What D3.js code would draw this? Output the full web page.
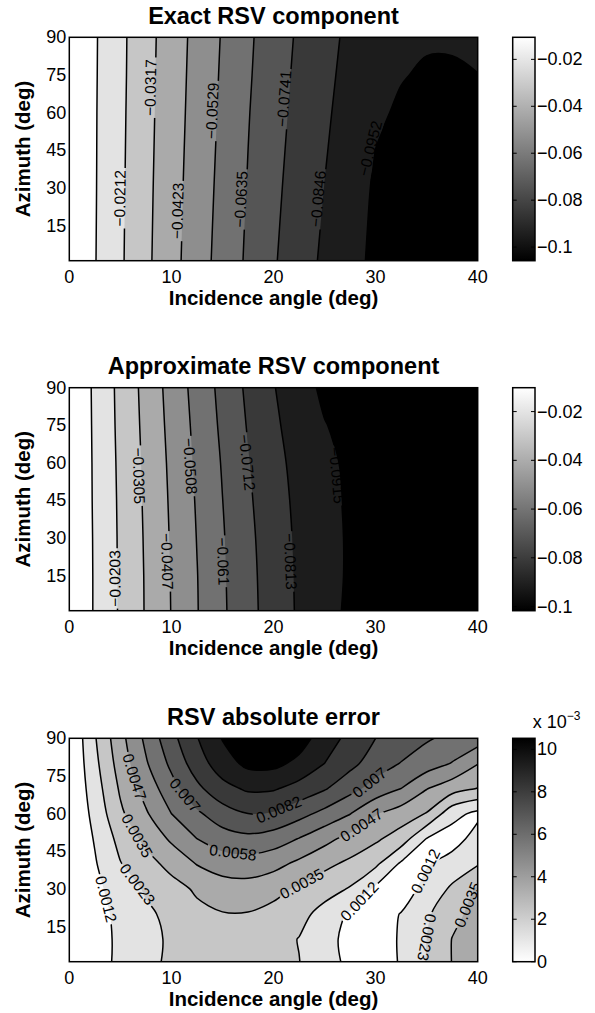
<!DOCTYPE html>
<html>
<head>
<meta charset="utf-8">
<script src="https://cdn.jsdelivr.net/npm/d3@7"></script>
<style>
  body { margin: 0; background: #fff; overflow: hidden; }
  text { font-family: "Liberation Sans", Arial, Helvetica, sans-serif; fill: #000; }
</style>
</head>
<body>
<div id="chart"></div>
<script>
// grid nodes (incidence angle columns, azimuth rows from 90 deg down to 0 deg)
var thetaNodes = [0, 2.5, 5, 7.5, 10, 12.5, 15, 17.5, 20, 22.5, 25, 27.5, 30, 32.5, 35, 37.5, 40];
var phiNodesRSV = [90, 75, 60, 45, 30, 15, 0];
var phiNodesErr = [90, 80, 70, 60, 50, 40, 30, 20, 10, 0];

// all field values in units of 1e-3
var exactRSV = [
  [0, -9.63, -18.83, -28.14, -36.92, -45.39, -53.64, -61.79, -68.98, -75.54, -81.36, -86.76, -89.93, -92.05, -93.95, -94.16, -93.10],
  [0, -9.73, -18.94, -28.35, -37.24, -45.81, -54.17, -62.32, -69.67, -76.28, -82.21, -87.60, -90.78, -94.59, -96.49, -96.28, -95.33],
  [0, -9.84, -19.15, -28.57, -37.56, -46.23, -54.70, -62.95, -70.36, -77.02, -83.05, -88.55, -93.21, -96.81, -98.39, -98.39, -97.87],
  [0, -9.89, -19.31, -28.83, -37.88, -46.71, -55.23, -63.48, -71.04, -77.82, -83.90, -89.40, -95.43, -98.61, -99.98, -100.51, -100.51],
  [0, -9.95, -19.47, -29.10, -38.19, -47.19, -55.76, -64.01, -71.73, -78.61, -84.75, -90.25, -96.49, -99.77, -101.57, -102.10, -102.63],
  [0, -10.05, -19.63, -29.31, -38.51, -47.61, -56.29, -64.64, -72.42, -79.35, -85.59, -91.20, -97.02, -100.51, -102.63, -103.68, -104.53],
  [0, -10.16, -19.78, -29.52, -38.83, -48.03, -56.81, -65.17, -73.11, -80.09, -86.44, -92.05, -97.34, -101.04, -103.68, -104.74, -105.80]
];

var approxRSV = [
  [0, -11.89, -22.87, -33.65, -44.32, -54.38, -63.84, -73.09, -80.81, -87.22, -93.52, -96.06, -98.09, -99.62, -100.63, -101.14, -101.65],
  [0, -11.69, -22.57, -33.04, -43.51, -53.37, -62.82, -71.87, -79.59, -85.59, -91.08, -94.53, -97.08, -98.80, -100.13, -100.84, -101.35],
  [0, -11.49, -22.16, -32.43, -42.69, -52.45, -61.70, -70.65, -78.37, -84.27, -89.15, -93.52, -96.06, -98.09, -99.62, -100.63, -101.14],
  [0, -11.38, -21.85, -32.02, -42.08, -51.64, -60.89, -69.73, -77.36, -83.56, -88.44, -93.01, -95.55, -97.58, -99.11, -100.43, -101.04],
  [0, -11.18, -21.65, -31.61, -41.57, -51.03, -60.18, -68.92, -76.54, -83.05, -88.03, -92.70, -95.55, -97.58, -99.11, -100.43, -101.04],
  [0, -11.08, -21.55, -31.31, -41.17, -50.52, -59.77, -68.41, -76.03, -82.74, -88.03, -92.70, -95.75, -97.79, -99.31, -100.53, -101.14],
  [0, -11.08, -21.45, -31.21, -40.96, -50.32, -59.47, -68.11, -75.73, -82.54, -88.13, -93.31, -96.06, -98.09, -99.62, -100.63, -101.14]
];

var absError = [
  [0, 2.24, 4.30, 6.10, 7.82, 9.29, 10.58, 11.57, 11.69, 11.05, 9.94, 9.01, 8.18, 7.72, 7.13, 6.72, 6.43],
  [0, 2.03, 4.02, 5.72, 7.27, 8.79, 9.98, 10.81, 10.83, 10.23, 9.35, 8.52, 7.59, 6.96, 6.43, 5.79, 4.73],
  [0, 1.78, 3.67, 5.13, 6.59, 7.91, 8.97, 9.53, 9.47, 8.93, 8.29, 7.39, 6.57, 5.85, 4.73, 4.02, 3.47],
  [0, 1.52, 3.30, 4.54, 5.85, 6.82, 7.66, 8.17, 8.07, 7.42, 6.67, 5.89, 4.77, 4.13, 3.45, 1.58, 0.88],
  [0, 1.26, 2.71, 3.81, 4.87, 5.85, 6.49, 6.72, 6.44, 5.81, 5.05, 4.30, 3.71, 2.97, 1.13, 0.58, 1.70],
  [0, 1.06, 2.29, 3.07, 3.88, 4.73, 5.20, 5.32, 5.05, 4.42, 3.78, 3.27, 2.58, 0.99, 1.05, 1.75, 2.24],
  [0, 0.88, 1.72, 2.48, 3.07, 3.68, 4.15, 4.21, 3.86, 3.34, 2.86, 2.24, 0.94, 0.35, 1.68, 2.50, 3.68],
  [0, 0.75, 1.46, 2.13, 2.63, 3.21, 3.45, 3.45, 3.16, 2.76, 1.88, 1.03, 0.47, 1.23, 2.16, 3.17, 3.92],
  [0, 0.71, 1.39, 2.00, 2.51, 2.81, 3.04, 2.98, 2.81, 2.30, 1.57, 0.82, 0.35, 1.34, 2.34, 3.54, 4.03],
  [0, 0.72, 1.41, 2.06, 2.54, 2.75, 2.92, 2.86, 2.69, 2.37, 1.67, 0.91, 0.41, 1.29, 2.40, 3.54, 3.97]
];

// contour levels and colour limits (1e-3 units)
var exactLevels = [-95.2, -84.6, -74.1, -63.5, -52.9, -42.3, -31.7, -21.2, -10.6];
var approxLevels = [-91.5, -81.3, -71.2, -61.0, -50.8, -40.7, -30.5, -20.3, -10.2];
var errorLevels = [1.17, 2.34, 3.51, 4.68, 5.85, 7.01, 8.18, 9.35, 10.52];
var exactRange = [-105.8, -10.6];
var approxRange = [-101.7, -10.2];
var errorRange = [0, 10.52];

// in-line contour labels: level, text, anchor (theta, phi), reading direction
var exactLabels = [
  {v: -21.2, text: "\u22120.0212", theta: 4.9, phi: 25.9, dir: -90},
  {v: -31.7, text: "\u22120.0317", theta: 7.9, phi: 70, dir: -90},
  {v: -42.3, text: "\u22120.0423", theta: 10.5, phi: 20.9, dir: -90},
  {v: -52.9, text: "\u22120.0529", theta: 13.9, phi: 60.8, dir: -90},
  {v: -63.5, text: "\u22120.0635", theta: 16.7, phi: 25.6, dir: -90},
  {v: -74.1, text: "\u22120.0741", theta: 20.9, phi: 65.7, dir: -90},
  {v: -84.6, text: "\u22120.0846", theta: 24.1, phi: 25.9, dir: -90},
  {v: -95.2, text: "\u22120.0952", theta: 29.9, phi: 45.8, dir: -90}
];
var approxLabels = [
  {v: -20.3, text: "\u22120.0203", theta: 5.6, phi: 13.9, dir: -90},
  {v: -30.5, text: "\u22120.0305", theta: 6.4, phi: 54.8, dir: 90},
  {v: -40.7, text: "\u22120.0407", theta: 9.1, phi: 20.6, dir: 90},
  {v: -50.8, text: "\u22120.0508", theta: 11.3, phi: 58.5, dir: 90},
  {v: -61.0, text: "\u22120.061", theta: 14.8, phi: 20.6, dir: 90},
  {v: -71.2, text: "\u22120.0712", theta: 16.9, phi: 59.8, dir: 90},
  {v: -81.3, text: "\u22120.0813", theta: 21.6, phi: 20.6, dir: 90},
  {v: -91.5, text: "\u22120.0915", theta: 25.2, phi: 54.5, dir: 90}
];
var errorLabels = [
  {v: 1.17, text: "0.0012", theta: 3.66, phi: 26, dir: 70},
  {v: 2.34, text: "0.0023", theta: 6.6, phi: 31.6, dir: 55},
  {v: 3.51, text: "0.0035", theta: 6.6, phi: 51.1, dir: 55},
  {v: 4.68, text: "0.0047", theta: 6.43, phi: 74.7, dir: 65},
  {v: 7.01, text: "0.007", theta: 11.23, phi: 67, dir: 40},
  {v: 5.85, text: "0.0058", theta: 16.06, phi: 45.5, dir: 5},
  {v: 8.18, text: "0.0082", theta: 20.6, phi: 60.8, dir: -5},
  {v: 7.01, text: "0.007", theta: 29.45, phi: 72.1, dir: -35},
  {v: 4.68, text: "0.0047", theta: 28.5, phi: 56.1, dir: -30},
  {v: 3.51, text: "0.0035", theta: 22.66, phi: 32.9, dir: -15},
  {v: 1.17, text: "0.0012", theta: 27.75, phi: 27.6, dir: -45},
  {v: 1.17, text: "0.0012", theta: 34.67, phi: 37.5, dir: -45},
  {v: 3.51, text: "0.0035", theta: 37.45, phi: 26.3, dir: -55},
  {v: 2.34, text: "0.0023", theta: 35.07, phi: 10.7, dir: 85}
];

var xTicks = [0, 10, 20, 30, 40];
var yTicks = [15, 30, 45, 60, 75, 90];
var rsvTicks = [-100, -80, -60, -40, -20];
var errorTicks = [0, 2, 4, 6, 8, 10];

var width = 595, height = 1013;
var plotLeft = 69.3, plotRight = 477.7, cbLeft = 512.7, cbRight = 535;

function rsvFormat(v) { return String(v / 1000).replace("-", "\u2212"); }
function errFormat(v) { return String(Math.round(v)); }

var panels = [
  {title: "Exact RSV component", top: 37.3, bottom: 260.7, grid: exactRSV, phiNodes: phiNodesRSV,
   levels: exactLevels, range: exactRange, labels: exactLabels, ramp: ["#000", "#fff"], cbTicks: rsvTicks, cbFormat: rsvFormat, labelDx: -5},
  {title: "Approximate RSV component", top: 387.7, bottom: 610.7, grid: approxRSV, phiNodes: phiNodesRSV,
   levels: approxLevels, range: approxRange, labels: approxLabels, ramp: ["#000", "#fff"], cbTicks: rsvTicks, cbFormat: rsvFormat, labelDx: -2.5},
  {title: "RSV absolute error", top: 738.3, bottom: 961.7, grid: absError, phiNodes: phiNodesErr,
   levels: errorLevels, range: errorRange, labels: errorLabels, ramp: ["#fff", "#000"], cbTicks: errorTicks, cbFormat: errFormat, labelDx: 0, exponent: true}
];

var svg = d3.select("#chart").append("svg")
    .attr("width", width)
    .attr("height", height);
var defs = svg.append("defs");

var smoothOpen = d3.line().curve(d3.curveCatmullRom.alpha(0.5));
var smoothClosed = d3.line().curve(d3.curveCatmullRomClosed.alpha(0.5));

panels.forEach(drawPanel);

function drawPanel(p, i) {
  var x = d3.scaleLinear().domain([0, 40]).range([plotLeft, plotRight]);
  var y = d3.scaleLinear().domain([1, 90]).range([p.bottom, p.top]);
  var n = thetaNodes.length, m = p.phiNodes.length;
  // contour coordinates -> data coordinates (sample k sits at k + 0.5)
  var colTheta = d3.scaleLinear().domain(d3.range(n)).range(thetaNodes).clamp(true);
  var rowPhi = d3.scaleLinear().domain(d3.range(m)).range(p.phiNodes).clamp(true);
  var tExt = d3.extent(thetaNodes), pExt = d3.extent(p.phiNodes);
  var color = d3.scaleLinear().domain(p.range).range(p.ramp).clamp(true);

  var contours = d3.contours()
      .size([n, m])
      .thresholds(p.levels)(p.grid.flat());

  function toData(c) { return [colTheta(c[0] - 0.5), rowPhi(c[1] - 0.5)]; }
  function toPx(d) { return [x(d[0]), y(d[1])]; }
  function onEdge(a, b) {
    return (a[0] === b[0] && (a[0] === tExt[0] || a[0] === tExt[1])) ||
           (a[1] === b[1] && (a[1] === pExt[0] || a[1] === pExt[1]));
  }

  // split a ring into straight border pieces and smooth iso-line runs
  function splitRing(ring) {
    var pts = ring.map(toData);
    var last = pts[pts.length - 1];
    if (pts.length > 1 && last[0] === pts[0][0] && last[1] === pts[0][1]) pts.pop();
    var N = pts.length;
    var px = pts.map(toPx);
    var edge = pts.map(function(a, k) { return onEdge(a, pts[(k + 1) % N]); });
    var start = edge.indexOf(true);
    if (start < 0) return {closed: true, pts: px};
    var pieces = [], run = null;
    for (var j = 0; j < N; j++) {
      var k = (start + j) % N, k1 = (k + 1) % N;
      if (edge[k]) {
        if (run) { pieces.push({run: true, pts: run}); run = null; }
        pieces.push({run: false, pts: [px[k], px[k1]]});
      } else {
        if (!run) run = [px[k]];
        run.push(px[k1]);
      }
    }
    if (run) pieces.push({run: true, pts: run});
    return {closed: false, start: px[start], pieces: pieces};
  }

  var shapes = contours.map(function(d) {
    var rings = [];
    d.coordinates.forEach(function(poly) { poly.forEach(function(ring) { rings.push(splitRing(ring)); }); });
    return {value: d.value, rings: rings};
  });

  defs.append("clipPath").attr("id", "clip" + i)
    .append("rect")
      .attr("x", plotLeft).attr("y", p.top)
      .attr("width", plotRight - plotLeft).attr("height", p.bottom - p.top);

  var plot = svg.append("g").attr("clip-path", "url(#clip" + i + ")");

  // lowest band
  plot.append("rect")
      .attr("x", plotLeft).attr("y", p.top)
      .attr("width", plotRight - plotLeft).attr("height", p.bottom - p.top)
      .attr("fill", color(p.range[0]));

  // filled bands
  plot.selectAll(".band")
      .data(shapes)
    .enter().append("path")
      .attr("class", "band")
      .attr("fill-rule", "evenodd")
      .attr("fill", function(d) { return color(d.value); })
      .attr("d", function(d) {
        return d.rings.map(function(r) {
          if (r.closed) return smoothClosed(r.pts);
          var s = "M" + r.start[0] + "," + r.start[1];
          r.pieces.forEach(function(pc) {
            if (pc.run) s += smoothOpen(pc.pts).replace(/^M/, "L");
            else s += "L" + pc.pts[1][0] + "," + pc.pts[1][1];
          });
          return s + "Z";
        }).join("");
      });

  // iso-lines
  var mask = defs.append("mask").attr("id", "mask" + i)
      .attr("maskUnits", "userSpaceOnUse")
      .attr("x", 0).attr("y", 0).attr("width", width).attr("height", height);
  mask.append("rect").attr("x", 0).attr("y", 0).attr("width", width).attr("height", height).attr("fill", "#fff");

  plot.append("g")
      .attr("mask", "url(#mask" + i + ")")
    .selectAll(".iso")
      .data(shapes)
    .enter().append("path")
      .attr("class", "iso")
      .attr("fill", "none")
      .attr("stroke", "#000")
      .attr("stroke-width", 1.5)
      .attr("stroke-linejoin", "round")
      .attr("d", function(d) {
        return d.rings.map(function(r) {
          if (r.closed) return smoothClosed(r.pts);
          return r.pieces.filter(function(pc) { return pc.run; })
              .map(function(pc) { return smoothOpen(pc.pts); }).join("");
        }).join("");
      });

  // contour labels, snapped onto their line and turned along it
  var labelG = plot.append("g");
  p.labels.forEach(function(lb) {
    var shape = shapes.reduce(function(best, d) {
      return Math.abs(d.value - lb.v) < Math.abs(best.value - lb.v) ? d : best;
    });
    var segs = [];
    shape.rings.forEach(function(r) {
      var runs = r.closed ? [r.pts.concat([r.pts[0]])] :
          r.pieces.filter(function(pc) { return pc.run; }).map(function(pc) { return pc.pts; });
      runs.forEach(function(pts) {
        for (var k = 1; k < pts.length; k++) segs.push([pts[k - 1], pts[k]]);
      });
    });
    var ax = x(lb.theta), ay = y(lb.phi);
    var bestD = Infinity, bx = ax, by = ay, ang = lb.dir;
    segs.forEach(function(sg) {
      var a = sg[0], b = sg[1], dx = b[0] - a[0], dy = b[1] - a[1], l2 = dx * dx + dy * dy;
      if (!l2) return;
      var t = Math.max(0, Math.min(1, ((ax - a[0]) * dx + (ay - a[1]) * dy) / l2));
      var qx = a[0] + t * dx, qy = a[1] + t * dy;
      var dd = (qx - ax) * (qx - ax) + (qy - ay) * (qy - ay);
      if (dd < bestD) { bestD = dd; bx = qx; by = qy; ang = Math.atan2(dy, dx) * 180 / Math.PI; }
    });
    var diff = ((ang - lb.dir) % 360 + 540) % 360 - 180;
    if (Math.abs(diff) > 90) ang += 180;
    bx += p.labelDx;
    var tr = "translate(" + bx.toFixed(2) + "," + by.toFixed(2) + ") rotate(" + ang.toFixed(1) + ")";

    var txt = labelG.append("text")
        .attr("transform", tr)
        .attr("text-anchor", "middle")
        .attr("dominant-baseline", "central")
        .style("font-size", "15.5px")
        .text(lb.text);
    var len = txt.node().getComputedTextLength();
    mask.append("rect")
        .attr("x", -len / 2 - 2).attr("y", -7.5)
        .attr("width", len + 4).attr("height", 15)
        .attr("transform", tr)
        .attr("fill", "#000");
  });

  // axes box
  svg.append("rect")
      .attr("x", plotLeft).attr("y", p.top)
      .attr("width", plotRight - plotLeft).attr("height", p.bottom - p.top)
      .attr("fill", "none").attr("stroke", "#000").attr("stroke-width", 1.5);

  // tick labels
  svg.append("g").selectAll("text")
      .data(xTicks)
    .enter().append("text")
      .attr("x", function(d) { return x(d); })
      .attr("y", p.bottom + 22)
      .attr("text-anchor", "middle")
      .style("font-size", "18px")
      .text(function(d) { return d; });

  svg.append("g").selectAll("text")
      .data(yTicks)
    .enter().append("text")
      .attr("x", plotLeft - 3)
      .attr("y", function(d) { return y(d); })
      .attr("text-anchor", "end")
      .attr("dominant-baseline", "central")
      .style("font-size", "18px")
      .text(function(d) { return d; });

  // axis labels and title
  svg.append("text")
      .attr("x", (plotLeft + plotRight) / 2)
      .attr("y", p.bottom + 44)
      .attr("text-anchor", "middle")
      .style("font-size", "20.5px")
      .style("font-weight", "bold")
      .text("Incidence angle (deg)");

  svg.append("text")
      .attr("transform", "translate(30," + ((p.top + p.bottom) / 2) + ") rotate(-90)")
      .attr("text-anchor", "middle")
      .style("font-size", "20.5px")
      .style("font-weight", "bold")
      .text("Azimuth (deg)");

  svg.append("text")
      .attr("x", (plotLeft + plotRight) / 2)
      .attr("y", p.top - 13.5)
      .attr("text-anchor", "middle")
      .style("font-size", "23.5px")
      .style("font-weight", "bold")
      .text(p.title);

  // colorbar
  var cb = d3.scaleLinear().domain(p.range).range([p.bottom, p.top]);
  var grad = defs.append("linearGradient").attr("id", "grad" + i)
      .attr("x1", 0).attr("y1", 0).attr("x2", 0).attr("y2", 1);
  grad.append("stop").attr("offset", 0).attr("stop-color", color(p.range[1]));
  grad.append("stop").attr("offset", 1).attr("stop-color", color(p.range[0]));

  svg.append("rect")
      .attr("x", cbLeft).attr("y", p.top)
      .attr("width", cbRight - cbLeft).attr("height", p.bottom - p.top)
      .attr("fill", "url(#grad" + i + ")")
      .attr("stroke", "#000").attr("stroke-width", 1.5);

  var cbT = svg.append("g").selectAll("g")
      .data(p.cbTicks)
    .enter().append("g");
  cbT.append("path")
      .attr("stroke", "#000").attr("stroke-width", 1)
      .attr("d", function(d) {
        var yy = cb(d).toFixed(2);
        return "M" + cbLeft + "," + yy + "h4M" + (cbRight - 4) + "," + yy + "h4";
      });
  cbT.append("text")
      .attr("x", cbRight + 2)
      .attr("y", function(d) { return cb(d); })
      .attr("dominant-baseline", "central")
      .style("font-size", "18px")
      .text(p.cbFormat);

  if (p.exponent) {
    var ex = svg.append("text")
        .attr("x", cbLeft + 20)
        .attr("y", p.top - 10)
        .style("font-size", "18px")
        .text("x 10");
    ex.append("tspan")
        .attr("dy", -8)
        .style("font-size", "12px")
        .text("\u22123");
  }
}
</script>
</body>
</html>
